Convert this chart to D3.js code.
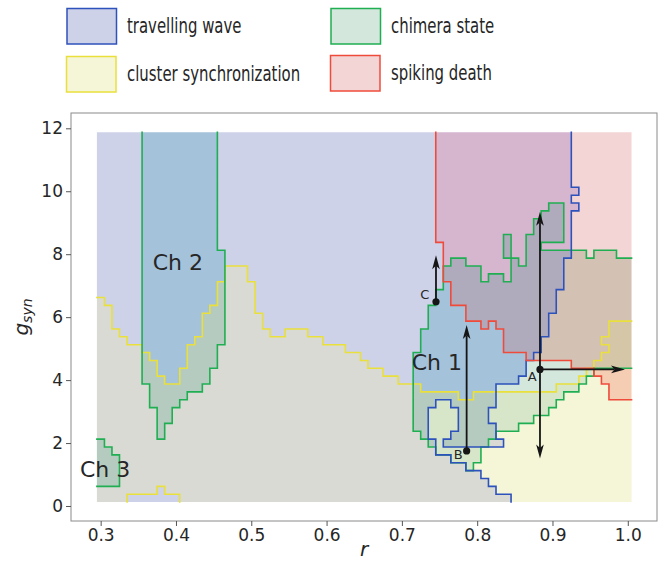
<!DOCTYPE html>
<html><head><meta charset="utf-8">
<script src="https://cdn.jsdelivr.net/npm/d3@7/dist/d3.min.js"></script>
<style>body{margin:0;background:#fff} text{font-family:"DejaVu Sans",sans-serif;fill:#262626}</style>
</head><body><svg id="c" width="659" height="561"></svg>
<script>
// ---- data: parameter grid (r columns, g rows) ----
const rGrid = d3.range(71).map(i => Math.round((0.30 + 0.01 * i) * 100) / 100);
const gRowEdges = d3.range(48).map(j => 0.125 + 0.25 * j);
const xTicks = [0.3, 0.4, 0.5, 0.6, 0.7, 0.8, 0.9, 1.0];
const yTicks = [0, 2, 4, 6, 8, 10, 12];

// region cells: [r from, r to, g low, g high]
const clusterCells = [
 [0.30,0.30,0.125,6.625],[0.31,0.31,0.125,6.375],[0.32,0.32,0.125,5.625],[0.33,0.33,0.125,5.375],
 [0.34,0.35,0.375,5.125],[0.36,0.36,0.375,4.875],[0.37,0.37,0.375,4.625],[0.38,0.38,0.625,4.125],
 [0.39,0.40,0.375,3.875],[0.41,0.41,0.125,4.375],[0.42,0.42,0.125,5.125],[0.43,0.43,0.125,5.375],
 [0.44,0.44,0.125,6.125],[0.45,0.45,0.125,6.375],[0.46,0.46,0.125,7.125],[0.47,0.49,0.125,7.625],
 [0.50,0.50,0.125,7.125],[0.51,0.51,0.125,6.125],[0.52,0.52,0.125,5.625],[0.53,0.54,0.125,5.375],
 [0.55,0.57,0.125,5.625],[0.58,0.59,0.125,5.375],[0.60,0.62,0.125,5.125],[0.63,0.64,0.125,4.875],
 [0.65,0.65,0.125,4.625],[0.66,0.67,0.125,4.375],[0.68,0.69,0.125,4.125],[0.70,0.72,0.125,3.875],
 [0.73,0.77,0.125,3.625],[0.78,0.79,0.125,3.375],[0.80,0.90,0.125,3.625],[0.91,0.93,0.125,3.875],
 [0.94,0.94,0.125,4.125],[0.95,0.95,0.125,4.375],[0.96,0.96,0.125,4.625],[0.97,0.97,0.125,4.875],
 [0.97,0.97,5.125,5.375],[0.98,1.00,0.125,5.875]
];
const chimeraCells = [
 [0.30,0.30,0.625,2.125],[0.31,0.31,0.625,1.875],[0.32,0.32,0.625,1.625],
 [0.36,0.36,3.875,11.875],[0.37,0.37,3.125,11.875],[0.38,0.38,2.125,11.875],[0.39,0.39,2.625,11.875],
 [0.40,0.40,3.125,11.875],[0.41,0.41,3.375,11.875],[0.42,0.43,3.625,11.875],[0.44,0.44,3.875,11.875],
 [0.45,0.45,4.375,11.875],[0.46,0.46,5.125,8.125],
 [0.72,0.72,2.375,4.875],[0.73,0.73,2.125,5.625],[0.74,0.74,1.875,6.375],[0.75,0.75,1.625,6.875],
 [0.76,0.76,1.625,7.625],[0.77,0.78,1.375,7.875],[0.79,0.79,1.125,7.625],[0.80,0.80,1.375,7.625],
 [0.81,0.81,1.875,7.125],[0.82,0.82,2.125,7.375],[0.83,0.83,2.375,7.375],[0.84,0.84,2.375,7.125],
 [0.84,0.84,7.875,8.625],[0.85,0.85,2.375,7.875],[0.86,0.86,2.625,7.625],[0.87,0.87,2.625,8.625],
 [0.88,0.88,2.875,9.125],[0.89,0.89,2.875,8.125],[0.89,0.89,8.375,9.375],[0.90,0.90,3.125,8.125],
 [0.90,0.91,8.375,9.625],[0.91,0.91,3.375,8.125],[0.92,0.93,3.625,8.125],[0.94,0.94,3.875,8.125],
 [0.95,0.95,4.125,7.875],[0.96,0.98,4.375,8.125],[0.99,1.00,4.375,7.875]
];
const travelCells = [
 [0.30,0.73,0.125,11.875],[0.74,0.74,0.125,2.125],[0.74,0.74,3.125,11.875],
 [0.75,0.76,0.125,1.625],[0.75,0.76,3.375,11.875],[0.76,0.76,1.875,2.125],
 [0.77,0.77,0.125,1.375],[0.77,0.77,1.875,2.375],[0.77,0.77,3.125,11.875],
 [0.78,0.78,0.125,1.375],[0.78,0.81,1.875,11.875],[0.79,0.80,0.125,1.125],[0.81,0.81,0.125,0.875],
 [0.82,0.82,0.125,0.625],[0.82,0.82,1.875,2.625],[0.82,0.82,3.125,11.875],
 [0.83,0.84,0.125,0.375],[0.83,0.83,1.875,2.125],[0.83,0.85,3.875,11.875],
 [0.86,0.86,4.125,11.875],[0.87,0.87,4.625,11.875],[0.88,0.88,4.875,11.875],[0.89,0.89,5.375,11.875],
 [0.90,0.90,6.125,11.875],[0.91,0.91,6.875,11.875],[0.92,0.92,7.875,11.875],
 [0.93,0.93,9.375,9.625],[0.93,0.93,9.875,10.125]
];
const spikingCells = [
 [0.75,0.75,8.375,11.875],[0.76,0.76,7.125,11.875],[0.77,0.78,6.375,11.875],[0.79,0.80,5.875,11.875],
 [0.81,0.81,5.625,11.875],[0.82,0.82,5.875,11.875],[0.83,0.83,5.625,11.875],[0.84,0.86,4.875,11.875],
 [0.87,0.92,4.625,11.875],[0.93,0.95,4.375,11.875],[0.96,0.96,4.125,11.875],[0.97,0.97,3.875,11.875],
 [0.98,1.00,3.375,11.875]
];
const legendLabels = ["travelling wave", "cluster synchronization", "chimera state", "spiking death"];
const chLabels = ["Ch 1", "Ch 2", "Ch 3"];
const chR = [0.713, 0.369, 0.2725];
const chG = [4.32, 7.50, 0.91];
const pointNames = ["A", "B", "C"];
const pointR = [0.8834, 0.786, 0.7453];
const pointG = [4.34, 1.75, 6.49];
const labelR = [0.8732, 0.7749, 0.7303];
const labelG = [4.13, 1.64, 6.74];
// arrows: [start point index, end r, end g]
const arrowsData = [[0, 0.8834, 9.35], [0, 0.8834, 1.51], [0, 0.9963, 4.34], [1, 0.786, 5.75], [2, 0.7453, 7.97]];

// ---- styles ----
// state bits: 1 travelling, 2 cluster, 4 chimera, 8 spiking -> blended fill colour
const mixColour = {
  1: "#cdd2e8", 2: "#f5f5d8", 4: "#d3e7dd", 8: "#f4d5d5",
  3: "#d9dad4", 5: "#a4c2da", 7: "#b6cbbf", 9: "#d6b5cf", 13: "#b0aabd",
  6: "#d7e6c9", 10: "#f4cdb3", 12: "#d3c1b4", 14: "#d6c6a8", 11: "#d8b8b4", 15: "#b5aea6"
};
const stateFill = ["#cdd2e8", "#f5f5d8", "#d3e7dd", "#f4d5d5"];
const stateStroke = ["#2d52bb", "#e9e03c", "#1fae52", "#ef4b3b"];

// ---- drawing ----
const svg = d3.select("#c");
const xs = d3.scaleLinear().domain([0.2606, 1.0388]).range([71, 657]);
const ys = d3.scaleLinear().domain([-0.4766, 12.486]).range([521, 113]);
const NC = rGrid.length, NR = gRowEdges.length - 1;
const colL = c => xs(rGrid[c] - 0.005), colR = c => xs(rGrid[c] + 0.005);

function rasterize(blocks) {
  const M = rGrid.map(() => new Array(NR).fill(false));
  blocks.forEach(([r0, r1, g0, g1]) => {
    const c0 = rGrid.findIndex(r => Math.abs(r - r0) < 1e-6), c1 = rGrid.findIndex(r => Math.abs(r - r1) < 1e-6);
    const j0 = gRowEdges.findIndex(g => Math.abs(g - g0) < 1e-6), j1 = gRowEdges.findIndex(g => Math.abs(g - g1) < 1e-6);
    for (let c = c0; c <= c1; c++) for (let j = j0; j < j1; j++) M[c][j] = true;
  });
  return M;
}
function edgePath(M) {
  let d = "";
  for (let c = 1; c < NC; c++) for (let j = 0; j < NR; j++)
    if (M[c - 1][j] !== M[c][j]) d += `M${colL(c)},${ys(gRowEdges[j])}V${ys(gRowEdges[j + 1])}`;
  for (let c = 0; c < NC; c++) for (let j = 1; j < NR; j++)
    if (M[c][j - 1] !== M[c][j]) d += `M${colL(c)},${ys(gRowEdges[j])}H${colR(c)}`;
  return d;
}

const states = [travelCells, clusterCells, chimeraCells, spikingCells].map(rasterize);
// combined key per cell
const key = rGrid.map((_, c) => d3.range(NR).map(j => states.reduce((k, M, s) => k | (M[c][j] ? (1 << s) : 0), 0)));
const paths = {};
for (let c = 0; c < NC; c++) {
  let j = 0;
  while (j < NR) {
    const k0 = key[c][j]; let k = j;
    while (k < NR && key[c][k] === k0) k++;
    if (k0) paths[k0] = (paths[k0] || "") + `M${colL(c)},${ys(gRowEdges[k])}H${colR(c)}V${ys(gRowEdges[j])}H${colL(c)}Z`;
    j = k;
  }
}
const gFill = svg.append("g");
Object.keys(paths).forEach(k => gFill.append("path").attr("d", paths[k]).attr("fill", mixColour[k] || "#ccc"));

const gEdge = svg.append("g");
[1, 2, 0, 3].forEach(s => gEdge.append("path").attr("d", edgePath(states[s])).attr("fill", "none")
  .attr("stroke", stateStroke[s]).attr("stroke-width", 1.6).attr("stroke-linecap", "square"));

// frame
svg.append("rect").attr("x", 71).attr("y", 113).attr("width", 586).attr("height", 408)
  .attr("fill", "none").attr("stroke", "#8a8a8a").attr("stroke-width", 1);

// axes
const xAxis = svg.append("g").attr("transform", "translate(0,521)")
  .call(d3.axisBottom(xs).tickValues(xTicks).tickFormat(d3.format(".1f")).tickSize(5).tickSizeOuter(0).tickPadding(3));
const yAxis = svg.append("g").attr("transform", "translate(71,0)")
  .call(d3.axisLeft(ys).tickValues(yTicks).tickFormat(d3.format("d")).tickSize(5).tickSizeOuter(0).tickPadding(3));
[xAxis, yAxis].forEach(a => {
  a.select(".domain").remove();
  a.selectAll(".tick line").attr("stroke", "#555");
  a.selectAll(".tick text").attr("font-size", 17).attr("fill", "#262626").style("font-family", "DejaVu Sans");
});

// axis labels
svg.append("text").attr("x", 364).attr("y", 556).attr("text-anchor", "middle")
  .attr("font-size", 20).attr("font-style", "italic").text("r");
const yl = svg.append("text").attr("transform", "translate(28,317) rotate(-90)").attr("text-anchor", "middle")
  .attr("font-size", 20).attr("font-style", "italic");
yl.append("tspan").text("g");
yl.append("tspan").attr("font-size", 14).attr("dy", 4).text("syn");

// region labels
chLabels.forEach((t, i) => svg.append("text").attr("x", xs(chR[i])).attr("y", ys(chG[i]))
  .attr("font-size", 22).text(t));

// arrows
const gA = svg.append("g");
function arrow(x1, y1, x2, y2) {
  const L = 14, W = 3.8, N = 3.5;
  const dx = x2 - x1, dy = y2 - y1, len = Math.hypot(dx, dy), ux = dx / len, uy = dy / len, px = -uy, py = ux;
  const bx = x2 - ux * L, by = y2 - uy * L, nx = x2 - ux * (L - N), ny = y2 - uy * (L - N);
  gA.append("line").attr("x1", x1).attr("y1", y1).attr("x2", nx).attr("y2", ny)
    .attr("stroke", "#151515").attr("stroke-width", 1.8);
  gA.append("path").attr("d", `M${x2},${y2}L${bx + px * W},${by + py * W}L${nx},${ny}L${bx - px * W},${by - py * W}Z`)
    .attr("fill", "#151515");
}
arrowsData.forEach(([p, r2, g2]) => arrow(xs(pointR[p]), ys(pointG[p]), xs(r2), ys(g2)));
pointNames.forEach((n, i) => {
  gA.append("circle").attr("cx", xs(pointR[i])).attr("cy", ys(pointG[i])).attr("r", 3.6).attr("fill", "#151515");
  gA.append("text").attr("x", xs(labelR[i])).attr("y", ys(labelG[i])).attr("dy", "0.36em")
    .attr("text-anchor", "middle").attr("font-size", 13).text(n);
});

// legend: travelling, cluster, chimera, spiking
const legPos = [[67, 8.5, 127, 32.5], [66.5, 56.5, 127, 80.5], [331, 8.5, 391, 32.5], [330.5, 55.5, 391, 79.5]];
legendLabels.forEach((lab, k) => {
  const [rx, ry, tx, ty] = legPos[k];
  svg.append("rect").attr("x", rx).attr("y", ry).attr("width", 49.5).attr("height", 35.5)
    .attr("fill", stateFill[k]).attr("stroke", stateStroke[k]).attr("stroke-width", 1.5);
  svg.append("text").attr("transform", `translate(${tx},${ty}) scale(0.71,1)`).attr("font-size", 21)
    .attr("fill", "#2a2a2a").text(lab);
});
</script></body></html>
